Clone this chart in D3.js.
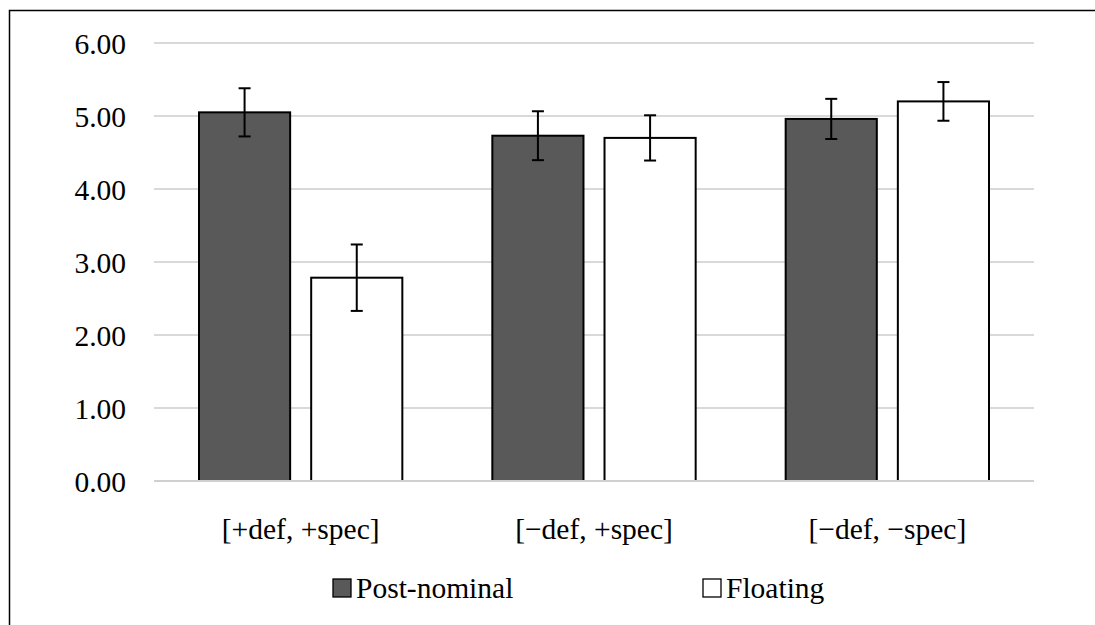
<!DOCTYPE html>
<html><head><meta charset="utf-8">
<script src="https://cdn.jsdelivr.net/npm/d3@7"></script>
<style>body{margin:0;background:#fff}svg{display:block}</style>
</head><body>
<svg id="c" width="1095" height="625"></svg>
<script>
const categories = ["[+def, +spec]", "[\u2212def, +spec]", "[\u2212def, \u2212spec]"];
const seriesNames = ["Post-nominal", "Floating"];
const postNominal = [5.05, 4.73, 4.96];
const floating = [2.785, 4.70, 5.20];
const postNominalErr = [0.33, 0.335, 0.275];
const floatingErr = [0.455, 0.31, 0.265];
const yTicks = [0, 1, 2, 3, 4, 5, 6];

const FONT = '"Liberation Serif", "Times New Roman", Times, "DejaVu Serif", serif';
const svg = d3.select("#c").style("font-family", FONT);
// frame (top and left visible)
svg.append("path").attr("d", "M9.5,625 L9.5,10.5 L1095,10.5").attr("fill","none").attr("stroke","#000").attr("stroke-width",1.5);

const x0 = 154, x1 = 1034;
const y = d3.scaleLinear().domain([0, 6]).range([481, 43]);
const xb = d3.scaleBand().domain(categories).range([x0, x1]);
const xs = d3.scaleBand().domain(seriesNames).range([45, xb.bandwidth() - 45]).paddingInner(0.1875).paddingOuter(0);

// grid
svg.append("g").selectAll("line").data(yTicks).join("line")
  .attr("x1", x0).attr("x2", x1).attr("y1", d => y(d)).attr("y2", d => y(d))
  .attr("stroke", "#d9d9d9").attr("stroke-width", 2);

const yAxis = d3.axisLeft(y).tickValues(yTicks).tickFormat(d3.format(".2f")).tickSize(0).tickPadding(28);
const ya = svg.append("g").attr("transform", `translate(${x0},0)`).call(yAxis);
ya.attr("font-family", null).attr("font-size", null);
ya.select(".domain").remove();
ya.selectAll("text").style("font-size", "29.5px").style("font-family", FONT).attr("fill", "#000").attr("dy", "0.34em");

const data = [];
categories.forEach((c, i) => {
  data.push({c, s: seriesNames[0], v: postNominal[i], e: postNominalErr[i]});
  data.push({c, s: seriesNames[1], v: floating[i], e: floatingErr[i]});
});
const fill = {"Post-nominal": "#595959", "Floating": "#ffffff"};

svg.append("g").selectAll("rect").data(data).join("rect")
  .attr("x", d => xb(d.c) + xs(d.s))
  .attr("width", xs.bandwidth())
  .attr("y", d => y(d.v))
  .attr("height", d => y(0) - y(d.v))
  .attr("fill", d => fill[d.s]).attr("stroke", "#000").attr("stroke-width", 2);

// axis line at 0
svg.append("line").attr("x1", x0).attr("x2", x1).attr("y1", y(0)).attr("y2", y(0)).attr("stroke", "#d0d0d0").attr("stroke-width", 2);

// error bars
const eb = svg.append("g").attr("stroke", "#000").attr("stroke-width", 2);
data.forEach(d => {
  const cx = xb(d.c) + xs(d.s) + xs.bandwidth() / 2;
  eb.append("line").attr("x1", cx).attr("x2", cx).attr("y1", y(d.v + d.e)).attr("y2", y(d.v - d.e));
  eb.append("line").attr("x1", cx - 6).attr("x2", cx + 6).attr("y1", y(d.v + d.e)).attr("y2", y(d.v + d.e));
  eb.append("line").attr("x1", cx - 6).attr("x2", cx + 6).attr("y1", y(d.v - d.e)).attr("y2", y(d.v - d.e));
});

// category labels
const xAxis = d3.axisBottom(xb).tickSize(0).tickPadding(37);
const xa = svg.append("g").attr("transform", `translate(0,${y(0)})`).call(xAxis);
xa.attr("font-family", null).attr("font-size", null);
xa.select(".domain").remove();
xa.selectAll("text").style("font-size", "29.5px").style("font-family", FONT).attr("fill", "#000");

// legend
const legend = [{s: "Post-nominal", x: 333}, {s: "Floating", x: 703}];
const lg = svg.append("g");
legend.forEach(l => {
  lg.append("rect").attr("x", l.x).attr("y", 579).attr("width", 18).attr("height", 18)
    .attr("fill", fill[l.s]).attr("stroke", "#000").attr("stroke-width", 1.3);
  lg.append("text").attr("x", l.x + 23).attr("y", 598).style("font-size", "29.5px").style("font-family", FONT).text(l.s);
});
</script>
</body></html>
